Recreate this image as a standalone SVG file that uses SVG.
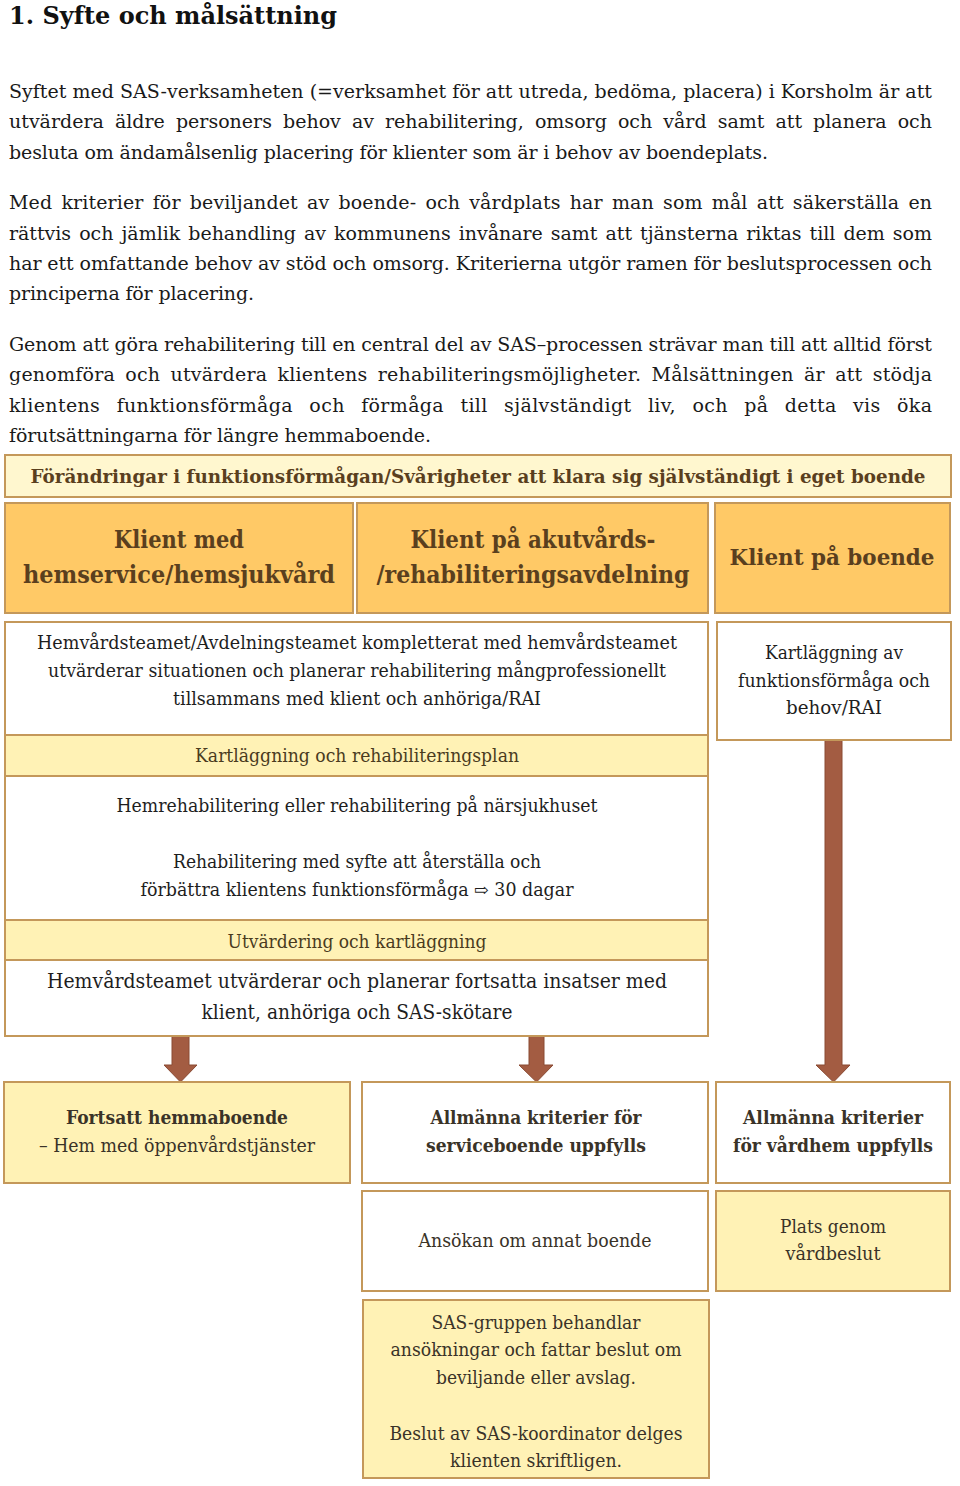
<svg xmlns="http://www.w3.org/2000/svg" width="960" height="1486" viewBox="0 0 960 1486">
<style>
text{font-family:"DejaVu Serif","Liberation Serif",serif;}
.title{font-size:25px;font-weight:bold;fill:#111;}
.p{font-size:19px;fill:#1a1a1a;}
.box{stroke:#C4985A;stroke-width:2;}
.w{fill:#fff;}
.y{fill:#FFF2B5;}
.hy{fill:#FFF7CF;}
.o{fill:#FFC966;}
.hd{font-size:18px;font-weight:bold;fill:#5A3F1E;text-anchor:middle;}
.ob{font-size:24px;font-weight:bold;fill:#5A3F1E;text-anchor:middle;}
.t{font-size:18px;fill:#1e1e1e;text-anchor:middle;}
.ty{font-size:18px;fill:#4A3B1E;text-anchor:middle;}
.tb{font-size:19px;font-weight:bold;fill:#3A3328;text-anchor:middle;}
.arrow{fill:#A35C42;stroke:#8A4A33;stroke-width:1;}
</style>
<g id="intro">
<text class="title" x="9" y="24" textLength="328" lengthAdjust="spacingAndGlyphs">1. Syfte och målsättning</text>
<text class="p" x="9" y="98" textLength="923" lengthAdjust="spacing">Syftet med SAS-verksamheten (=verksamhet för att utreda, bedöma, placera) i Korsholm är att</text>
<text class="p" x="9" y="128" textLength="923" lengthAdjust="spacing" style="word-spacing:5px">utvärdera äldre personers behov av rehabilitering, omsorg och vård samt att planera och</text>
<text class="p" x="9" y="159" textLength="759" lengthAdjust="spacing">besluta om ändamålsenlig placering för klienter som är i behov av boendeplats.</text>
<text class="p" x="9" y="209" textLength="923" lengthAdjust="spacing" style="word-spacing:3px">Med kriterier för beviljandet av boende- och vårdplats har man som mål att säkerställa en</text>
<text class="p" x="9" y="240" textLength="923" lengthAdjust="spacing" style="word-spacing:2px">rättvis och jämlik behandling av kommunens invånare samt att tjänsterna riktas till dem som</text>
<text class="p" x="9" y="270" textLength="923" lengthAdjust="spacing">har ett omfattande behov av stöd och omsorg. Kriterierna utgör ramen för beslutsprocessen och</text>
<text class="p" x="9" y="300" textLength="245" lengthAdjust="spacing">principerna för placering.</text>
<text class="p" x="9" y="351" textLength="923" lengthAdjust="spacing">Genom att göra rehabilitering till en central del av SAS–processen strävar man till att alltid först</text>
<text class="p" x="9" y="381" textLength="923" lengthAdjust="spacing" style="word-spacing:4px">genomföra och utvärdera klientens rehabiliteringsmöjligheter. Målsättningen är att stödja</text>
<text class="p" x="9" y="412" textLength="923" lengthAdjust="spacing" style="word-spacing:10px">klientens funktionsförmåga och förmåga till självständigt liv, och på detta vis öka</text>
<text class="p" x="9" y="442" textLength="422" lengthAdjust="spacing">förutsättningarna för längre hemmaboende.</text>
</g>
<g id="connectors">
<polygon class="arrow" points="172,1036 189,1036 189,1065 197,1065 180.5,1082 164,1065 172,1065"/>
<polygon class="arrow" points="529,1036 544,1036 544,1065 553,1065 536.5,1082 519,1065 529,1065"/>
<polygon class="arrow" points="825,740 842,740 842,1065 850,1065 833.5,1082 816,1065 825,1065"/>
</g>
<g id="header">
<rect class="box hy" x="5" y="455" width="946" height="42"/>
<text class="hd" x="478" y="483" textLength="895" lengthAdjust="spacingAndGlyphs">Förändringar i funktionsförmågan/Svårigheter att klara sig självständigt i eget boende</text>
</g>
<g id="klient-hemservice">
<rect class="box o" x="5" y="503" width="348" height="110"/>
<text class="ob" x="179" y="548" textLength="130" lengthAdjust="spacingAndGlyphs">Klient med</text>
<text class="ob" x="179" y="583" textLength="312" lengthAdjust="spacingAndGlyphs">hemservice/hemsjukvård</text>
</g>
<g id="klient-akut">
<rect class="box o" x="357" y="503" width="351" height="110"/>
<text class="ob" x="533" y="548" textLength="245" lengthAdjust="spacingAndGlyphs">Klient på akutvårds-</text>
<text class="ob" x="533" y="583" textLength="313" lengthAdjust="spacingAndGlyphs">/rehabiliteringsavdelning</text>
</g>
<g id="klient-boende">
<rect class="box o" x="715" y="503" width="235" height="110"/>
<text class="ob" x="832" y="565" style="font-size:22px" textLength="205" lengthAdjust="spacingAndGlyphs">Klient på boende</text>
</g>
<g id="team">
<rect class="box w" x="5" y="622" width="703" height="113"/>
<text class="t" x="357" y="649" textLength="640" lengthAdjust="spacingAndGlyphs">Hemvårdsteamet/Avdelningsteamet kompletterat med hemvårdsteamet</text>
<text class="t" x="357" y="677" textLength="618" lengthAdjust="spacingAndGlyphs">utvärderar situationen och planerar rehabilitering mångprofessionellt</text>
<text class="t" x="357" y="705" textLength="368" lengthAdjust="spacingAndGlyphs">tillsammans med klient och anhöriga/RAI</text>
</g>
<g id="kartlaggning-plan">
<rect class="box y" x="5" y="735" width="703" height="41"/>
<text class="ty" x="357" y="762" textLength="324" lengthAdjust="spacingAndGlyphs">Kartläggning och rehabiliteringsplan</text>
</g>
<g id="hemrehab">
<rect class="box w" x="5" y="776" width="703" height="144"/>
<text class="t" x="357" y="812" textLength="481" lengthAdjust="spacingAndGlyphs">Hemrehabilitering eller rehabilitering på närsjukhuset</text>
<text class="t" x="357" y="868" textLength="368" lengthAdjust="spacingAndGlyphs">Rehabilitering med syfte att återställa och</text>
<text class="t" x="357" y="896" textLength="433" lengthAdjust="spacingAndGlyphs">förbättra klientens funktionsförmåga ⇨ 30 dagar</text>
</g>
<g id="utvardering">
<rect class="box y" x="5" y="920" width="703" height="40"/>
<text class="ty" x="357" y="948" textLength="259" lengthAdjust="spacingAndGlyphs">Utvärdering och kartläggning</text>
</g>
<g id="hemvard-utvarderar">
<rect class="box w" x="5" y="960" width="703" height="76"/>
<text class="t" x="357" y="988" style="font-size:20px" textLength="620" lengthAdjust="spacingAndGlyphs">Hemvårdsteamet utvärderar och planerar fortsatta insatser med</text>
<text class="t" x="357" y="1019" style="font-size:20px" textLength="311" lengthAdjust="spacingAndGlyphs">klient, anhöriga och SAS-skötare</text>
</g>
<g id="kartlaggning-boende">
<rect class="box w" x="717" y="622" width="234" height="118"/>
<text class="t" x="834" y="659" textLength="138" lengthAdjust="spacingAndGlyphs">Kartläggning av</text>
<text class="t" x="834" y="687" textLength="192" lengthAdjust="spacingAndGlyphs">funktionsförmåga och</text>
<text class="t" x="834" y="714" textLength="96" lengthAdjust="spacingAndGlyphs">behov/RAI</text>
</g>
<g id="fortsatt">
<rect class="box y" x="4" y="1082" width="346" height="101"/>
<text class="tb" x="177" y="1124" textLength="222" lengthAdjust="spacingAndGlyphs">Fortsatt hemmaboende</text>
<text class="t" x="177" y="1152" style="fill:#3A3328" textLength="276" lengthAdjust="spacingAndGlyphs">– Hem med öppenvårdstjänster</text>
</g>
<g id="serviceboende">
<rect class="box w" x="362" y="1082" width="346" height="101"/>
<text class="tb" x="536" y="1124" textLength="211" lengthAdjust="spacingAndGlyphs">Allmänna kriterier för</text>
<text class="tb" x="536" y="1152" textLength="220" lengthAdjust="spacingAndGlyphs">serviceboende uppfylls</text>
</g>
<g id="vardhem">
<rect class="box w" x="716" y="1082" width="234" height="101"/>
<text class="tb" x="833" y="1124" textLength="180" lengthAdjust="spacingAndGlyphs">Allmänna kriterier</text>
<text class="tb" x="833" y="1152" textLength="200" lengthAdjust="spacingAndGlyphs">för vårdhem uppfylls</text>
</g>
<g id="ansokan">
<rect class="box w" x="362" y="1191" width="346" height="100"/>
<text class="t" x="535" y="1247" style="fill:#3A3328" textLength="233" lengthAdjust="spacingAndGlyphs">Ansökan om annat boende</text>
</g>
<g id="plats">
<rect class="box y" x="716" y="1191" width="234" height="100"/>
<text class="t" x="833" y="1233" style="fill:#3A3328" textLength="106" lengthAdjust="spacingAndGlyphs">Plats genom</text>
<text class="t" x="833" y="1260" style="fill:#3A3328" textLength="95" lengthAdjust="spacingAndGlyphs">vårdbeslut</text>
</g>
<g id="sas-gruppen">
<rect class="box y" x="363" y="1300" width="346" height="178"/>
<text class="t" x="536" y="1329" style="fill:#3A3328" textLength="209" lengthAdjust="spacingAndGlyphs">SAS-gruppen behandlar</text>
<text class="t" x="536" y="1356" style="fill:#3A3328" textLength="291" lengthAdjust="spacingAndGlyphs">ansökningar och fattar beslut om</text>
<text class="t" x="536" y="1384" style="fill:#3A3328" textLength="200" lengthAdjust="spacingAndGlyphs">beviljande eller avslag.</text>
<text class="t" x="536" y="1440" style="fill:#3A3328" textLength="293" lengthAdjust="spacingAndGlyphs">Beslut av SAS-koordinator delges</text>
<text class="t" x="536" y="1467" style="fill:#3A3328" textLength="172" lengthAdjust="spacingAndGlyphs">klienten skriftligen.</text>
</g>
</svg>
